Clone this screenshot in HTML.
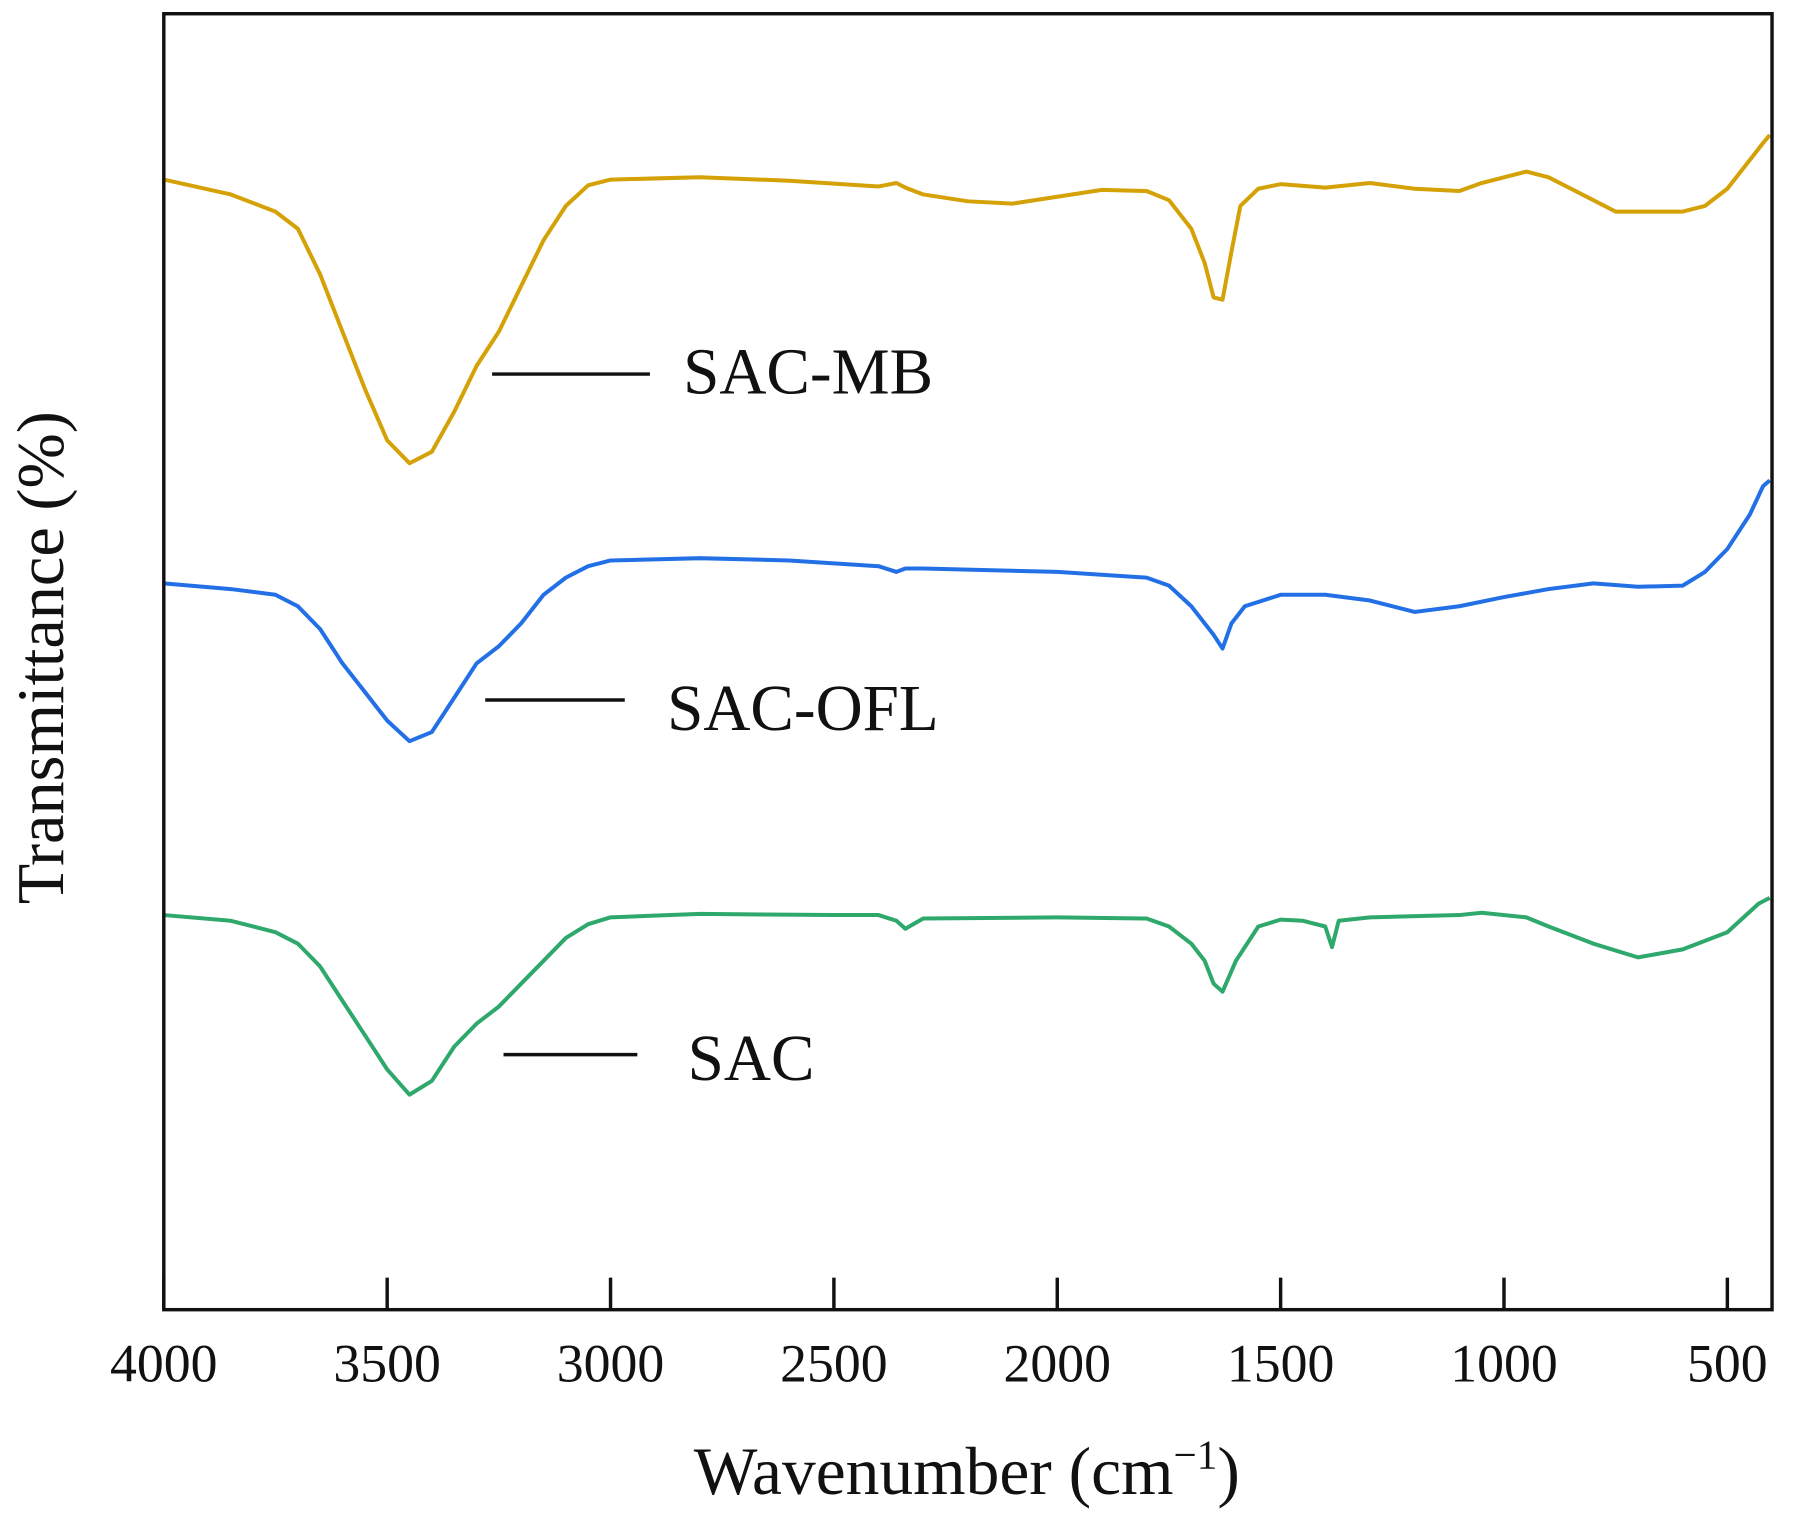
<!DOCTYPE html>
<html><head><meta charset="utf-8"><style>
html,body{margin:0;padding:0;background:#fff;}
svg{display:block;}
text{font-family:"Liberation Serif",serif;fill:#111;}
</style></head><body>
<svg id="chart" width="1794" height="1519" viewBox="0 0 1568 1328" xmlns="http://www.w3.org/2000/svg">
<g id="series"></g>
<rect x="143" y="12" width="1406" height="1133" fill="none" stroke="#111" stroke-width="3"/>
<g id="ticks"></g>
<g>
<line x1="430" y1="327" x2="568" y2="327" stroke="#111" stroke-width="3"/>
<text x="597" y="344" font-size="57">SAC-MB</text>
<line x1="424" y1="612" x2="546" y2="612" stroke="#111" stroke-width="3"/>
<text x="583" y="638" font-size="57">SAC-OFL</text>
<line x1="440" y1="922" x2="557" y2="922" stroke="#111" stroke-width="3"/>
<text x="601" y="944" font-size="57">SAC</text>
</g>
<text x="845" y="1306" font-size="59" text-anchor="middle">Wavenumber (cm<tspan dy="-22" font-size="36">−1</tspan><tspan dy="22">)</tspan></text>
<text transform="translate(55,575) rotate(-90)" font-size="58" text-anchor="middle">Transmittance (%)</text>
</svg>
<script>
const xTicks = [4000, 3500, 3000, 2500, 2000, 1500, 1000, 500];
const mbWave = [4000,3850,3750,3700,3650,3600,3550,3500,3450,3400,3350,3300,3250,3200,3150,3100,3050,3000,2900,2800,2600,2400,2360,2340,2300,2200,2100,2000,1900,1800,1750,1700,1670,1650,1630,1610,1590,1550,1500,1400,1300,1200,1100,1050,1000,950,900,850,800,750,700,600,550,500,450,420,405];
const mbVal = [988,975,960,945,905,855,805,760,740,750,785,825,855,895,935,965,983,988,989,990,987,982,985,981,975,969,967,973,979,978,970,945,915,885,883,925,965,980,984,981,985,980,978,985,990,995,990,980,970,960,960,960,965,980,1005,1020,1027];
const oflWave = [4000,3850,3750,3700,3650,3600,3550,3500,3450,3400,3350,3300,3250,3200,3150,3100,3050,3000,2800,2600,2400,2360,2340,2300,2000,1800,1750,1700,1650,1630,1610,1580,1500,1400,1300,1200,1100,1000,900,800,700,600,550,500,450,420,405];
const oflVal = [635,630,625,615,595,565,540,515,497,505,535,565,580,600,625,640,650,655,657,655,650,645,648,648,645,640,633,615,590,578,600,615,625,625,620,610,615,623,630,635,632,633,645,665,695,720,725];
const sacWave = [4000,3850,3750,3700,3650,3600,3550,3500,3450,3400,3350,3300,3250,3200,3150,3100,3050,3000,2800,2500,2400,2360,2340,2300,2000,1800,1750,1700,1670,1650,1630,1600,1550,1500,1450,1400,1385,1370,1300,1100,1050,950,900,800,700,600,500,430,405];
const sacVal = [345,340,330,320,300,270,240,210,188,200,230,250,265,285,305,325,337,343,346,345,345,340,333,342,343,342,335,320,305,285,278,305,335,341,340,335,317,340,343,345,347,343,335,320,308,315,330,355,360];

const X0 = 143, X1 = 1549, Y0 = 12, Y1 = 1145;
const W0 = 4000, W1 = 400;
function xs(w){ return X0 + (W0 - w) / (W0 - W1) * (X1 - X0); }
function ys(v){ return Y1 - v; }
const NS = "http://www.w3.org/2000/svg";
const seriesG = document.getElementById("series");
function draw(wave, vals, color, name){
  const p = document.createElementNS(NS, "path");
  let d = "";
  for (let i = 0; i < wave.length; i++) d += (i ? "L" : "M") + xs(wave[i]).toFixed(1) + "," + ys(vals[i]).toFixed(1);
  p.setAttribute("d", d);
  p.setAttribute("fill", "none");
  p.setAttribute("stroke", color);
  p.setAttribute("stroke-width", "3.5");
  p.setAttribute("stroke-linejoin", "round");
  
  
  seriesG.appendChild(p);
}
draw(mbWave, mbVal, "#d4a106", "series-sac-mb");
draw(oflWave, oflVal, "#2370e6", "series-sac-ofl");
draw(sacWave, sacVal, "#2fa86c", "series-sac");

const tg = document.getElementById("ticks");
xTicks.forEach(function(t){
  const x = xs(t);
  const l = document.createElementNS(NS, "line");
  l.setAttribute("x1", x); l.setAttribute("x2", x);
  l.setAttribute("y1", Y1); l.setAttribute("y2", Y1 - 28);
  l.setAttribute("stroke", "#111"); l.setAttribute("stroke-width", "3");
  
  
  tg.appendChild(l);
  const tx = document.createElementNS(NS, "text");
  tx.setAttribute("x", x); tx.setAttribute("y", 1208);
  tx.setAttribute("font-size", "47");
  tx.setAttribute("text-anchor", "middle");
  tx.textContent = t;
  
  
  tg.appendChild(tx);
});
</script>
</body></html>
